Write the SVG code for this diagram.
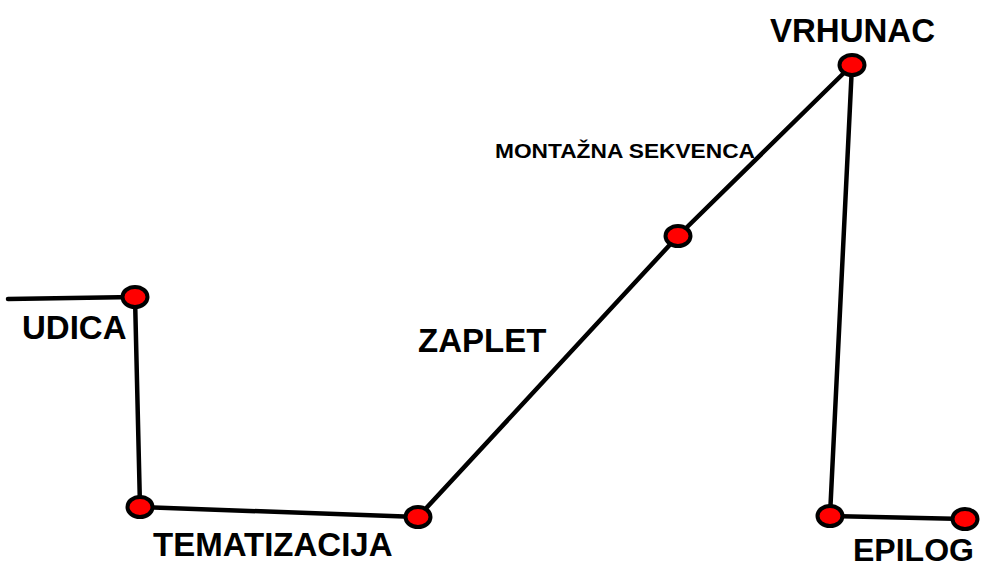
<svg xmlns="http://www.w3.org/2000/svg" width="981" height="568" viewBox="0 0 981 568">
<style>
.ln{stroke:#000;stroke-width:4.5;fill:none;stroke-linecap:round;stroke-linejoin:round}
.nd{fill:#ff0000;stroke:#000;stroke-width:4}
.lb{font-family:"Liberation Sans",Arial,sans-serif;font-weight:bold;fill:#000}
</style>
<rect width="981" height="568" fill="#fff"/>
<g id="connectors">
<line class="ln" x1="8" y1="299" x2="135" y2="297"/>
<line class="ln" x1="135" y1="297" x2="140" y2="507"/>
<line class="ln" x1="140" y1="507" x2="418" y2="517"/>
<line class="ln" x1="418" y1="517" x2="678" y2="236"/>
<line class="ln" x1="678" y1="236" x2="852" y2="65"/>
<line class="ln" x1="852" y1="65" x2="830" y2="516"/>
<line class="ln" x1="830" y1="516" x2="965" y2="519"/>
</g>
<g id="udica"><ellipse class="nd" cx="135" cy="297" rx="12.5" ry="10"/><text class="lb" x="22" y="339" font-size="33">UDICA</text></g>
<g id="tematizacija-start"><ellipse class="nd" cx="140" cy="507" rx="12.5" ry="10"/></g>
<g id="tematizacija"><ellipse class="nd" cx="418" cy="517" rx="12.5" ry="10"/><text class="lb" x="153" y="556" font-size="33">TEMATIZACIJA</text></g>
<g id="zaplet"><text class="lb" x="418" y="352" font-size="33">ZAPLET</text></g>
<g id="montazna"><ellipse class="nd" cx="678" cy="236" rx="12.5" ry="10"/><text class="lb" x="495" y="158" font-size="21" textLength="260" lengthAdjust="spacingAndGlyphs">MONTAŽNA SEKVENCA</text></g>
<g id="vrhunac"><ellipse class="nd" cx="852" cy="65" rx="12.5" ry="10"/><text class="lb" x="770" y="42" font-size="33">VRHUNAC</text></g>
<g id="epilog-start"><ellipse class="nd" cx="830" cy="516" rx="12.5" ry="10"/></g>
<g id="epilog"><ellipse class="nd" cx="965" cy="519" rx="12.5" ry="10"/><text class="lb" x="853" y="561" font-size="32">EPILOG</text></g>
</svg>
